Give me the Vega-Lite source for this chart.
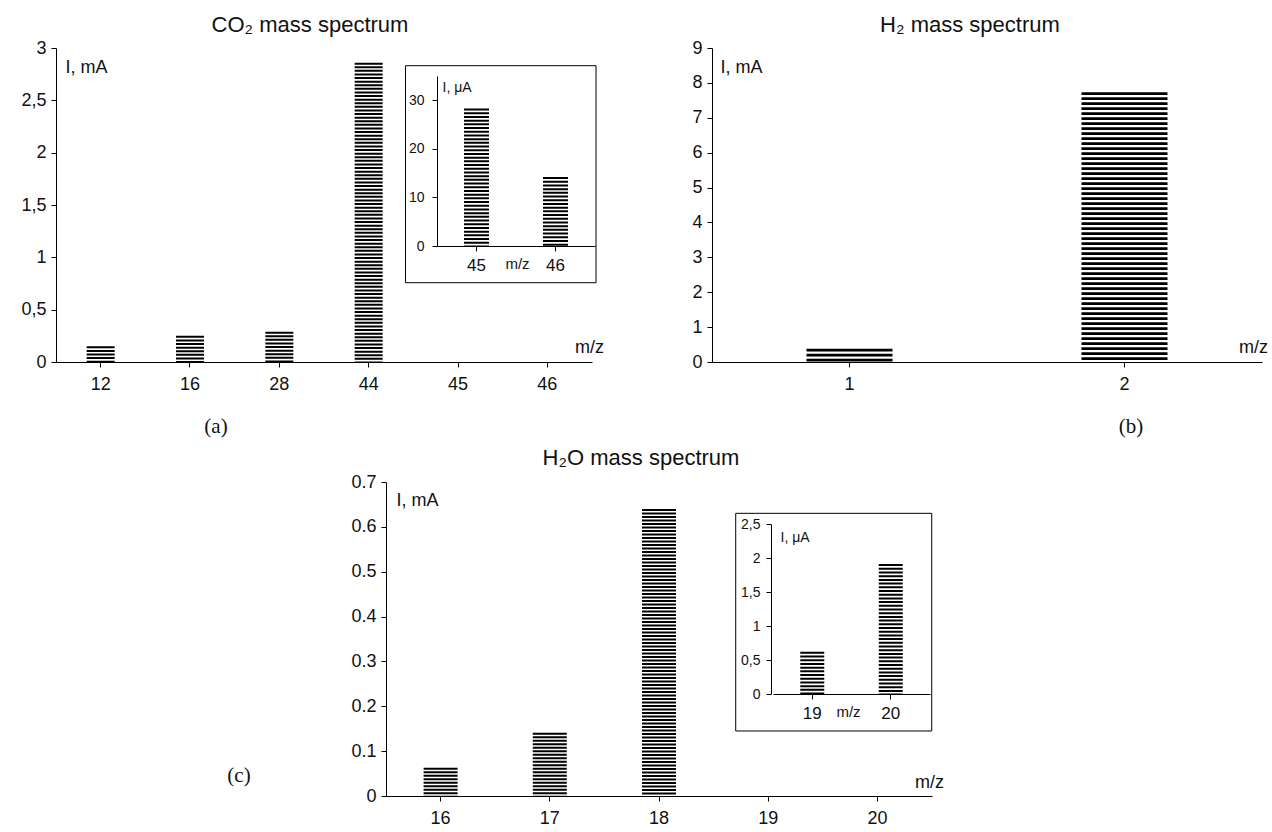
{
  "$schema": "https://vega.github.io/schema/vega-lite/v6.json",
  "width": 1272,
  "height": 832,
  "autosize": {"type": "none"},
  "padding": 0,
  "background": "white",
  "config": {
    "view": {"stroke": null},
    "font": "Liberation Sans",
    "axis": {
      "grid": false,
      "domainColor": "black",
      "domainWidth": 1,
      "tickColor": "black",
      "tickWidth": 1,
      "tickSize": 5,
      "labelColor": "#111111",
      "titleColor": "#111111",
      "labelFont": "Liberation Sans",
      "titleFont": "Liberation Sans",
      "titleFontWeight": "normal",
      "labelOverlap": false,
      "labelFlush": false
    },
    "text": {"font": "Liberation Sans", "color": "#111111"}
  },
  "datasets": {
    "co2": [{"mz": 12, "I": 0.15}, {"mz": 16, "I": 0.25}, {"mz": 28, "I": 0.29}, {"mz": 44, "I": 2.86}],
    "co2_inset": [{"mz": 45, "I": 28.3}, {"mz": 46, "I": 14.2}],
    "h2": [{"mz": 1, "I": 0.38}, {"mz": 2, "I": 7.73}],
    "h2o": [{"mz": 16, "I": 0.063}, {"mz": 17, "I": 0.141}, {"mz": 18, "I": 0.64}],
    "h2o_inset": [{"mz": 19, "I": 0.62}, {"mz": 20, "I": 1.91}]
  },
  "layer": [
    {
      "layer": [
        {
          "data": {"name": "co2"},
          "mark": {"type": "rule", "color": "black", "strokeWidth": 28, "strokeDash": [2, 1.6], "strokeCap": "butt"},
          "encoding": {
            "x": {"field": "mz", "type": "ordinal",
              "scale": {"type": "band", "domain": [12, 16, 28, 44, 45, 46], "range": [56, 592], "paddingInner": 0, "paddingOuter": 0},
              "axis": {"orient": "bottom", "offset": -470, "labelAngle": 0, "labelFontSize": 18, "labelPadding": 8,
                "title": "m/z", "titleFontSize": 18, "titleAngle": 0, "titleX": 589, "titleY": -15, "titleAlign": "center", "titleBaseline": "middle"}},
            "y": {"field": "I", "type": "quantitative",
              "scale": {"domain": [0, 3], "range": [362, 48], "nice": false},
              "axis": {"orient": "left", "offset": -56, "values": [0, 0.5, 1, 1.5, 2, 2.5, 3],
                "labelExpr": "replace(format(datum.value, '~g'), '.', ',')", "labelFontSize": 18, "labelPadding": 5,
                "title": "I, mA", "titleFontSize": 18, "titleAngle": 0, "titleX": 9, "titleY": 67, "titleAlign": "left", "titleBaseline": "middle"}},
            "y2": {"datum": 0}
          }
        },
        {
          "data": {"values": [{"t": "CO₂ mass spectrum"}]},
          "mark": {"type": "text", "fontSize": 22, "align": "center", "baseline": "middle"},
          "encoding": {
            "x": {"datum": 28, "type": "ordinal", "bandPosition": 0.843},
            "y": {"datum": 3.22, "type": "quantitative"},
            "text": {"field": "t"}
          }
        },
        {
          "data": {"values": [{"t": "(a)"}]},
          "mark": {"type": "text", "fontSize": 21, "font": "Liberation Serif", "align": "center", "baseline": "middle"},
          "encoding": {
            "x": {"datum": 16, "type": "ordinal", "bandPosition": 0.791},
            "y": {"datum": -0.621, "type": "quantitative"},
            "text": {"field": "t"}
          }
        }
      ]
    },
    {
      "layer": [
        {
          "data": {"name": "co2_inset"},
          "mark": {"type": "rule", "color": "black", "strokeWidth": 25, "strokeDash": [2, 1.7], "strokeCap": "butt"},
          "encoding": {
            "x": {"field": "mz", "type": "ordinal",
              "scale": {"type": "band", "domain": [45, 46], "range": [437, 595], "paddingInner": 0, "paddingOuter": 0},
              "axis": {"orient": "bottom", "offset": -586, "labelAngle": 0, "labelFontSize": 17, "labelPadding": 6,
                "title": "m/z", "titleFontSize": 15, "titleAngle": 0, "titleX": 517, "titleY": 17, "titleAlign": "center", "titleBaseline": "middle"}},
            "y": {"field": "I", "type": "quantitative",
              "scale": {"domain": [0, 35], "range": [246, 76], "nice": false},
              "axis": {"orient": "left", "offset": -437, "values": [0, 10, 20, 30], "format": "~g", "labelFontSize": 14, "labelPadding": 8,
                "title": "I, μA", "titleFontSize": 14, "titleAngle": 0, "titleX": 5, "titleY": 87, "titleAlign": "left", "titleBaseline": "middle"}},
            "y2": {"datum": 0}
          }
        },
        {
          "data": {"values": [{"t": "frame"}]},
          "mark": {"type": "rect", "filled": false, "stroke": "black", "strokeWidth": 1},
          "encoding": {
            "x": {"datum": 45, "type": "ordinal", "bandPosition": -0.399},
            "x2": {"datum": 46, "bandPosition": 1.013},
            "y": {"datum": 37.12, "type": "quantitative"},
            "y2": {"datum": -7.56}
          }
        }
      ]
    },
    {
      "layer": [
        {
          "data": {"name": "h2"},
          "mark": {"type": "rule", "color": "black", "strokeWidth": 86, "strokeDash": [2.7, 2.3], "strokeCap": "butt"},
          "encoding": {
            "x": {"field": "mz", "type": "ordinal",
              "scale": {"type": "band", "domain": [1, 2], "range": [712, 1262], "paddingInner": 0, "paddingOuter": 0},
              "axis": {"orient": "bottom", "offset": -470, "labelAngle": 0, "labelFontSize": 18, "labelPadding": 8,
                "title": "m/z", "titleFontSize": 18, "titleAngle": 0, "titleX": 1253, "titleY": -15, "titleAlign": "center", "titleBaseline": "middle"}},
            "y": {"field": "I", "type": "quantitative",
              "scale": {"domain": [0, 9], "range": [362, 48], "nice": false},
              "axis": {"orient": "left", "offset": -712, "values": [0, 1, 2, 3, 4, 5, 6, 7, 8, 9], "format": "~g", "labelFontSize": 18, "labelPadding": 5,
                "title": "I, mA", "titleFontSize": 18, "titleAngle": 0, "titleX": 8, "titleY": 67, "titleAlign": "left", "titleBaseline": "middle"}},
            "y2": {"datum": 0}
          }
        },
        {
          "data": {"values": [{"t": "H₂ mass spectrum"}]},
          "mark": {"type": "text", "fontSize": 22, "align": "center", "baseline": "middle"},
          "encoding": {
            "x": {"datum": 1, "type": "ordinal", "bandPosition": 0.938},
            "y": {"datum": 9.66, "type": "quantitative"},
            "text": {"field": "t"}
          }
        },
        {
          "data": {"values": [{"t": "(b)"}]},
          "mark": {"type": "text", "fontSize": 21, "font": "Liberation Serif", "align": "center", "baseline": "middle"},
          "encoding": {
            "x": {"datum": 2, "type": "ordinal", "bandPosition": 0.524},
            "y": {"datum": -1.863, "type": "quantitative"},
            "text": {"field": "t"}
          }
        }
      ]
    },
    {
      "layer": [
        {
          "data": {"name": "h2o"},
          "mark": {"type": "rule", "color": "black", "strokeWidth": 34, "strokeDash": [2, 1.5], "strokeCap": "butt"},
          "encoding": {
            "x": {"field": "mz", "type": "ordinal",
              "scale": {"type": "band", "domain": [16, 17, 18, 19, 20], "range": [386, 932], "paddingInner": 0, "paddingOuter": 0},
              "axis": {"orient": "bottom", "offset": -36, "labelAngle": 0, "labelFontSize": 18, "labelPadding": 8,
                "title": "m/z", "titleFontSize": 18, "titleAngle": 0, "titleX": 929, "titleY": -14, "titleAlign": "center", "titleBaseline": "middle"}},
            "y": {"field": "I", "type": "quantitative",
              "scale": {"domain": [0, 0.7], "range": [796, 482], "nice": false},
              "axis": {"orient": "left", "offset": -386, "values": [0, 0.1, 0.2, 0.3, 0.4, 0.5, 0.6, 0.7], "format": "~g", "labelFontSize": 18, "labelPadding": 5,
                "title": "I, mA", "titleFontSize": 18, "titleAngle": 0, "titleX": 10, "titleY": 500, "titleAlign": "left", "titleBaseline": "middle"}},
            "y2": {"datum": 0}
          }
        },
        {
          "data": {"values": [{"t": "H₂O mass spectrum"}]},
          "mark": {"type": "text", "fontSize": 22, "align": "center", "baseline": "middle"},
          "encoding": {
            "x": {"datum": 18, "type": "ordinal", "bandPosition": 0.335},
            "y": {"datum": 0.7535, "type": "quantitative"},
            "text": {"field": "t"}
          }
        },
        {
          "data": {"values": [{"t": "(c)"}]},
          "mark": {"type": "text", "fontSize": 21, "font": "Liberation Serif", "align": "center", "baseline": "middle"},
          "encoding": {
            "x": {"datum": 16, "type": "ordinal", "bandPosition": -1.346},
            "y": {"datum": 0.0446, "type": "quantitative"},
            "text": {"field": "t"}
          }
        }
      ]
    },
    {
      "layer": [
        {
          "data": {"name": "h2o_inset"},
          "mark": {"type": "rule", "color": "black", "strokeWidth": 24, "strokeDash": [2, 1.7], "strokeCap": "butt"},
          "encoding": {
            "x": {"field": "mz", "type": "ordinal",
              "scale": {"type": "band", "domain": [19, 20], "range": [773, 930], "paddingInner": 0, "paddingOuter": 0},
              "axis": {"orient": "bottom", "offset": -138, "labelAngle": 0, "labelFontSize": 17, "labelPadding": 6,
                "title": "m/z", "titleFontSize": 15, "titleAngle": 0, "titleX": 848, "titleY": 17, "titleAlign": "center", "titleBaseline": "middle"}},
            "y": {"field": "I", "type": "quantitative",
              "scale": {"domain": [0, 2.5], "range": [694, 524], "nice": false},
              "axis": {"orient": "left", "offset": -771, "values": [0, 0.5, 1, 1.5, 2, 2.5],
                "labelExpr": "replace(format(datum.value, '~g'), '.', ',')", "labelFontSize": 14, "labelPadding": 6,
                "title": "I, μA", "titleFontSize": 14, "titleAngle": 0, "titleX": 9, "titleY": 537, "titleAlign": "left", "titleBaseline": "middle"}},
            "y2": {"datum": 0}
          }
        },
        {
          "data": {"values": [{"t": "frame"}]},
          "mark": {"type": "rect", "filled": false, "stroke": "black", "strokeWidth": 1},
          "encoding": {
            "x": {"datum": 19, "type": "ordinal", "bandPosition": -0.475},
            "x2": {"datum": 20, "bandPosition": 1.022},
            "y": {"datum": 2.657, "type": "quantitative"},
            "y2": {"datum": -0.544}
          }
        }
      ]
    }
  ],
  "resolve": {
    "scale": {"x": "independent", "y": "independent"},
    "axis": {"x": "independent", "y": "independent"}
  }
}
